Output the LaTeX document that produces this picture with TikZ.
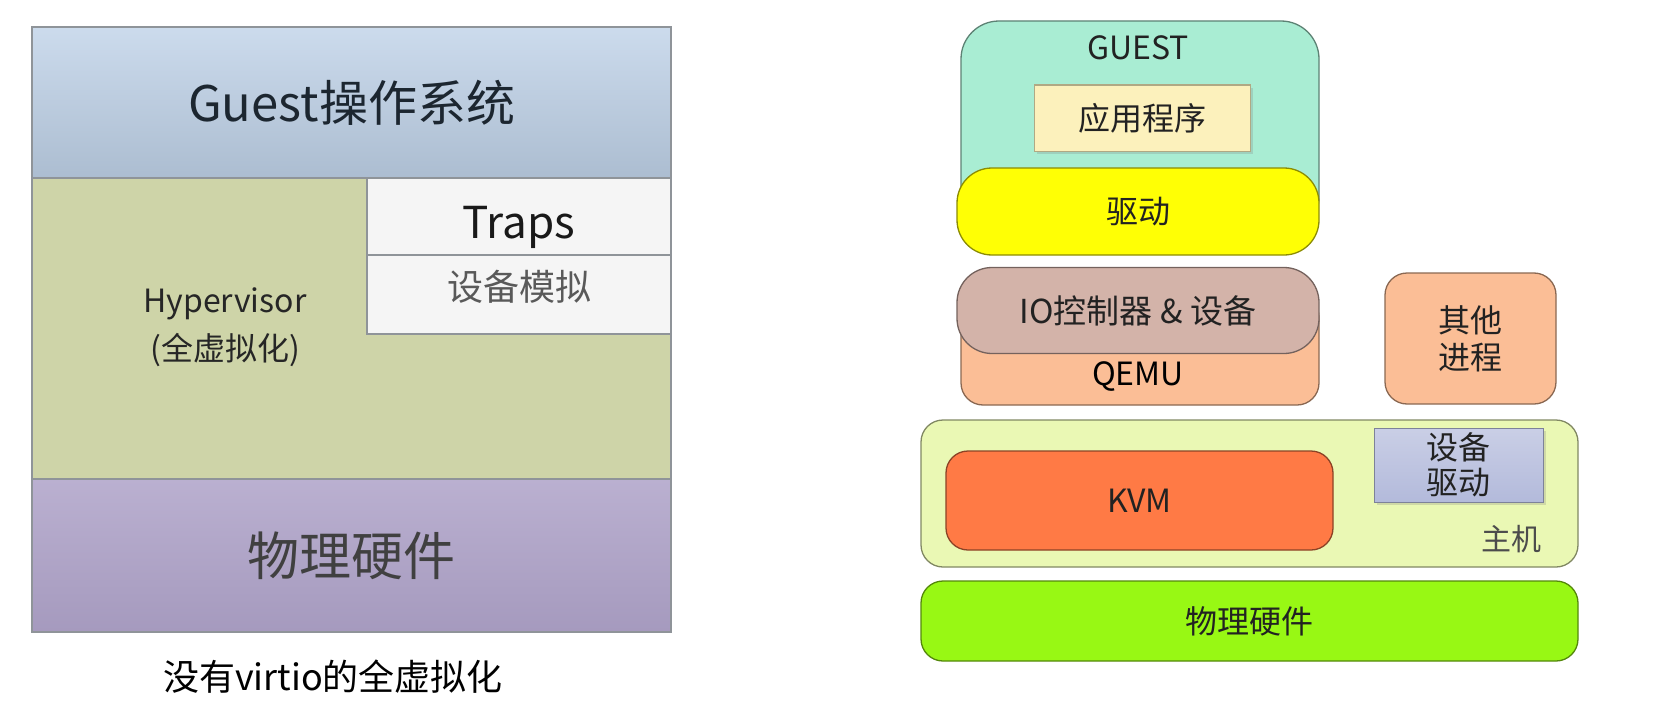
\documentclass[tikz,border=0pt]{standalone}
\usepackage{fontspec}
\setmainfont{Noto Sans CJK SC}
\usepackage{xcolor}
\usepackage{tikz}
\usetikzlibrary{positioning,shadows}
\definecolor{guestblue}{HTML}{BFD2E8}
\definecolor{hyperolive}{HTML}{CED4A8}
\definecolor{hwpurple}{HTML}{AEA2C8}
\definecolor{panelgray}{HTML}{8F9499}
\definecolor{vmmint}{HTML}{A9EDD3}
\definecolor{appcream}{HTML}{FCF1BC}
\definecolor{drvyellow}{HTML}{FFFF05}
\definecolor{iorose}{HTML}{D3B3A9}
\definecolor{qemupeach}{HTML}{FBBE96}
\definecolor{hostlime}{HTML}{EAF8B4}
\definecolor{kvmorange}{HTML}{FF7A45}
\definecolor{devlilac}{HTML}{B3BADB}
\definecolor{hwgreen}{HTML}{98F814}
\definecolor{inkdark}{HTML}{222222}
\definecolor{inkslate}{HTML}{1C2630}
\tikzset{
  layer/.style={draw=panelgray, line width=1.2pt, inner sep=0pt, anchor=center},
  whitelayer/.style={layer, fill=white!96!black},
  softbox/.style={draw=#1!55!black, line width=1.3pt, rounded corners=22pt, inner sep=0pt, text=inkdark},
  flatbox/.style={draw=#1!70!black, line width=1pt, inner sep=0pt, text=inkdark,
    drop shadow={shadow xshift=3pt, shadow yshift=-3pt, opacity=0.25}},
  bigtext/.style={font=\fontsize{49}{56}\selectfont},
  smalltext/.style={font=\fontsize{32}{37}\selectfont, align=center}
}

\begin{document}
\begin{tikzpicture}[x=1pt, y=-1pt]
  \useasboundingbox (0,0) rectangle (1668,701);
  % full virtualization without virtio
  \node[layer, top color=guestblue!80!white, bottom color=guestblue!90!black,
    minimum width=639pt, minimum height=151pt, bigtext, text=inkslate]
    (guestos) at (351.5,102.5) {Guest操作系统};
  \node[layer, fill=hyperolive, minimum width=639pt, minimum height=301pt] (hyper) at (351.5,328.5) {};
  \node[layer, top color=hwpurple!85!white, bottom color=hwpurple!95!black,
    minimum width=639pt, minimum height=153pt, font=\fontsize{52}{60}\selectfont, text=black!75]
    (hwleft) at (351.5,555.5) {物理硬件};
  \node[whitelayer, minimum width=304pt, minimum height=77pt] (traps) at (519,216.5) {};
  \node[whitelayer, minimum width=304pt, minimum height=79pt] (emu) at (519,294.5) {};
  \node[font=\fontsize{44}{52}\selectfont, text=black!90] (trapslbl) at (519,227) {Traps};
  \node[font=\fontsize{36}{42}\selectfont, text=black!65] (emulbl) at (519,287) {设备模拟};
  \node[align=center, font=\fontsize{32}{48}\selectfont, text=black!85] (hvlbl) at (225,327)
    {Hypervisor\\(全虚拟化)};
  \node[font=\fontsize{36}{42}\selectfont, text=black] (caption) at (333,677) {没有virtio的全虚拟化};

  % kvm stack
  \node[softbox=vmmint, fill=vmmint, rounded corners=38pt, minimum width=358pt, minimum height=214pt]
    (guestvm) at (1140,128) {};
  \node[smalltext, text=inkdark] (guestlbl) at (1138,48) {GUEST};
  \node[flatbox=appcream, fill=appcream, minimum width=216pt, minimum height=66pt, smalltext]
    (app) at (1142,118) {应用程序};
  \node[softbox=drvyellow, fill=drvyellow, rounded corners=35pt, minimum width=362pt, minimum height=87pt, smalltext]
    (drv) at (1138,211.5) {驱动};
  \node[softbox=qemupeach, fill=qemupeach, minimum width=358pt, minimum height=110pt] (qemu) at (1140,350) {};
  \node[smalltext] (qemulbl) at (1138,377) {QEMU};
  \node[softbox=iorose, fill=iorose, rounded corners=35pt, minimum width=362pt, minimum height=86pt,
    font=\fontsize{33}{38}\selectfont] (io) at (1138,310.5) {IO控制器 \& 设备};
  \node[softbox=qemupeach, fill=qemupeach, minimum width=171pt, minimum height=131pt, smalltext]
    (other) at (1470.5,338.5) {其他\\进程};
  \node[softbox=hostlime, fill=hostlime, minimum width=657pt, minimum height=147pt] (host) at (1249.5,493.5) {};
  \node[softbox=kvmorange, fill=kvmorange, minimum width=387pt, minimum height=99pt, smalltext]
    (kvm) at (1139.5,500.5) {KVM};
  \node[flatbox=devlilac, top color=devlilac!70!white, bottom color=devlilac,
    minimum width=169pt, minimum height=74pt, smalltext, font=\fontsize{32}{35}\selectfont]
    (devdrv) at (1458.5,465) {设备\\驱动};
  \node[font=\fontsize{30}{35}\selectfont, text=black!70] (hostlbl) at (1511,539) {主机};
  \node[softbox=hwgreen, fill=hwgreen, minimum width=657pt, minimum height=80pt, smalltext]
    (hwright) at (1249.5,621) {物理硬件};
\end{tikzpicture}
\end{document}
